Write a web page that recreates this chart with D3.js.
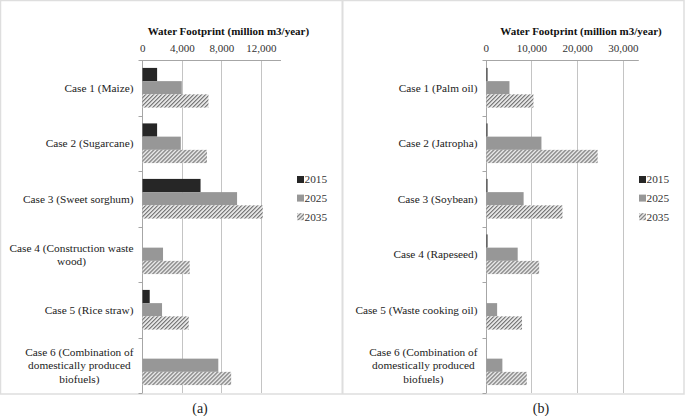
<!DOCTYPE html>
<html>
<head>
<meta charset="utf-8">
<script src="https://cdn.jsdelivr.net/npm/d3@7"></script>
<style>
  body { margin: 0; background: #fff; }
  svg text { font-family: "Liberation Serif", "DejaVu Serif", serif; }
  .tick-label { font-size: 11px; fill: #333; }
  .cat-label { font-size: 11.3px; fill: #222; }
  .axis-title { font-size: 11px; font-weight: bold; fill: #111; }
  .legend-text { font-size: 11.3px; fill: #333; }
</style>
</head>
<body>
<svg id="chart" width="685" height="416"></svg>
<script>
// data
const years = ['2015', '2025', '2035'];

const casesA = ['Case 1 (Maize)', 'Case 2 (Sugarcane)', 'Case 3 (Sweet sorghum)',
  'Case 4 (Construction waste|wood)', 'Case 5 (Rice straw)',
  'Case 6 (Combination of|domestically produced|biofuels)'];
const a2015 = [1500, 1500, 5900, 0, 750, 0];
const a2025 = [4000, 3900, 9600, 2100, 2000, 7700];
const a2035 = [6700, 6550, 12200, 4800, 4700, 9000];
const ticksA = [0, 4000, 8000, 12000];

const casesB = ['Case 1 (Palm oil)', 'Case 2 (Jatropha)', 'Case 3 (Soybean)',
  'Case 4 (Rapeseed)', 'Case 5 (Waste cooking oil)',
  'Case 6 (Combination of|domestically produced|biofuels)'];
const b2015 = [200, 200, 200, 200, 0, 0];
const b2025 = [5200, 12200, 8300, 7000, 2500, 3650];
const b2035 = [10450, 24500, 16800, 11700, 7950, 9000];
const ticksB = [0, 10000, 20000, 30000];

const serif = '"Liberation Serif", "DejaVu Serif", serif';
const svg = d3.select('#chart');

// fill pattern for 2035 (fine diagonal dither)
const defs = svg.append('defs');
const pat = defs.append('pattern')
  .attr('id', 'hatch')
  .attr('patternUnits', 'userSpaceOnUse')
  .attr('width', 4)
  .attr('height', 4);
pat.append('rect').attr('width', 4).attr('height', 4).attr('fill', '#e6e6e6');
[[3, 0], [2, 1], [1, 2], [0, 3], [0, 0], [3, 1], [2, 2], [1, 3]].forEach(([px, py], i) => {
  pat.append('rect')
    .attr('x', px).attr('y', py)
    .attr('width', 1).attr('height', 1)
    .attr('fill', i < 4 ? '#777' : '#a8a8a8');
});

const colour = d3.scaleOrdinal()
  .domain(years)
  .range(['#262626', '#979797', 'url(#hatch)']);

// frame around the two panels
svg.append('rect')
  .attr('x', 0.5).attr('y', 0.5)
  .attr('width', 683.5).attr('height', 393.5)
  .attr('fill', 'none')
  .attr('stroke', '#dedede')
  .attr('stroke-width', 1.5);
svg.append('line')
  .attr('x1', 342.5).attr('x2', 342.5)
  .attr('y1', 0).attr('y2', 394)
  .attr('stroke', '#dedede')
  .attr('stroke-width', 2);

function drawPanel(opts) {
  const g = svg.append('g');
  const top = 60, bottom = 393;

  const x = d3.scaleLinear()
    .domain([0, opts.max])
    .range([opts.x0, opts.x1]);

  const y = d3.scaleBand()
    .domain(opts.cases)
    .range([top, bottom])
    .paddingInner(0.285)
    .paddingOuter(0.1425);

  const yInner = d3.scaleBand()
    .domain(years)
    .range([0, y.bandwidth()]);

  // gridlines
  g.append('g').selectAll('line')
    .data(opts.ticks.filter(d => d > 0))
    .enter().append('line')
      .attr('x1', d => Math.round(x(d)) + 0.5)
      .attr('x2', d => Math.round(x(d)) + 0.5)
      .attr('y1', top)
      .attr('y2', bottom)
      .attr('stroke', '#c4c4c4')
      .attr('stroke-width', 1);

  // top axis
  const xAxis = d3.axisTop(x)
    .tickValues(opts.ticks)
    .tickFormat(d3.format(','))
    .tickSize(0)
    .tickPadding(8);
  const ax = g.append('g')
    .attr('transform', `translate(0,${top})`)
    .call(xAxis)
    .attr('font-family', serif)
    .attr('font-size', null);
  ax.select('.domain').attr('stroke', '#a6a6a6');
  ax.selectAll('text')
    .attr('class', 'tick-label')
    .attr('font-family', serif)
    .attr('fill', null);

  g.append('text')
    .attr('class', 'axis-title')
    .attr('font-family', serif)
    .attr('x', (x(0) + x(opts.max)) / 2 + opts.titleShift)
    .attr('y', 35)
    .attr('text-anchor', 'middle')
    .text('Water Footprint (million m3/year)');

  // left axis line and ticks at category boundaries
  const ax0 = Math.round(x(0)) + 0.5;
  g.append('line')
    .attr('x1', ax0).attr('x2', ax0)
    .attr('y1', top).attr('y2', bottom)
    .attr('stroke', '#a6a6a6');
  const bounds = d3.range(opts.cases.length + 1).map(i => top + i * y.step());
  g.append('g').selectAll('line')
    .data(bounds)
    .enter().append('line')
      .attr('x1', ax0 - 4).attr('x2', ax0)
      .attr('y1', d => Math.round(d) + 0.5)
      .attr('y2', d => Math.round(d) + 0.5)
      .attr('stroke', '#a6a6a6');

  // bars
  const rows = opts.cases.map((c, i) => ({
    name: c,
    values: years.map((yr, k) => ({year: yr, value: opts.series[k][i]}))
  }));

  const groups = g.append('g').selectAll('g')
    .data(rows)
    .enter().append('g')
      .attr('transform', d => `translate(0,${y(d.name)})`);

  groups.selectAll('rect')
    .data(d => d.values.filter(v => v.value > 0))
    .enter().append('rect')
      .attr('x', ax0)
      .attr('y', d => yInner(d.year))
      .attr('width', d => Math.max(1, x(d.value) - ax0))
      .attr('height', yInner.bandwidth())
      .attr('fill', d => colour(d.year));

  // category labels, lines centred in a block right-aligned to the axis
  groups.each(function(d) {
    const lines = d.name.split('|');
    const t = d3.select(this).append('text')
      .attr('class', 'cat-label')
      .attr('font-family', serif)
      .attr('text-anchor', 'middle');
    const lh = 13.3;
    const cy = y.bandwidth() / 2 - (lines.length - 1) * lh / 2;
    const spans = lines.map((ln, k) => t.append('tspan')
      .attr('y', cy + k * lh)
      .attr('dy', '0.35em')
      .text(ln));
    const w = d3.max(spans, s => s.node().getComputedTextLength());
    spans.forEach(s => s.attr('x', ax0 - 9 - w / 2));
  });

  // legend
  const leg = g.append('g').selectAll('g')
    .data(years)
    .enter().append('g')
      .attr('transform', (d, i) => `translate(${opts.legendX},${179.5 + i * 18.6})`);
  leg.append('rect')
    .attr('x', 0).attr('y', -3.5)
    .attr('width', 7).attr('height', 7)
    .attr('fill', d => colour(d));
  leg.append('text')
    .attr('class', 'legend-text')
    .attr('font-family', serif)
    .attr('x', 7.5)
    .attr('dy', '0.35em')
    .text(d => d);

  svg.append('text')
    .attr('font-family', serif)
    .attr('x', opts.captionX)
    .attr('y', 413)
    .attr('text-anchor', 'middle')
    .attr('font-size', 14)
    .attr('fill', '#222')
    .text(opts.caption);
}

drawPanel({
  cases: casesA,
  series: [a2015, a2025, a2035],
  ticks: ticksA,
  max: 14000,
  x0: 142.3,
  x1: 280.5,
  titleShift: 17,
  legendX: 297,
  captionX: 200,
  caption: '(a)'
});

drawPanel({
  cases: casesB,
  series: [b2015, b2025, b2035],
  ticks: ticksB,
  max: 33400,
  x0: 485.7,
  x1: 638.3,
  titleShift: 19,
  legendX: 639,
  captionX: 541,
  caption: '(b)'
});
</script>
</body>
</html>
